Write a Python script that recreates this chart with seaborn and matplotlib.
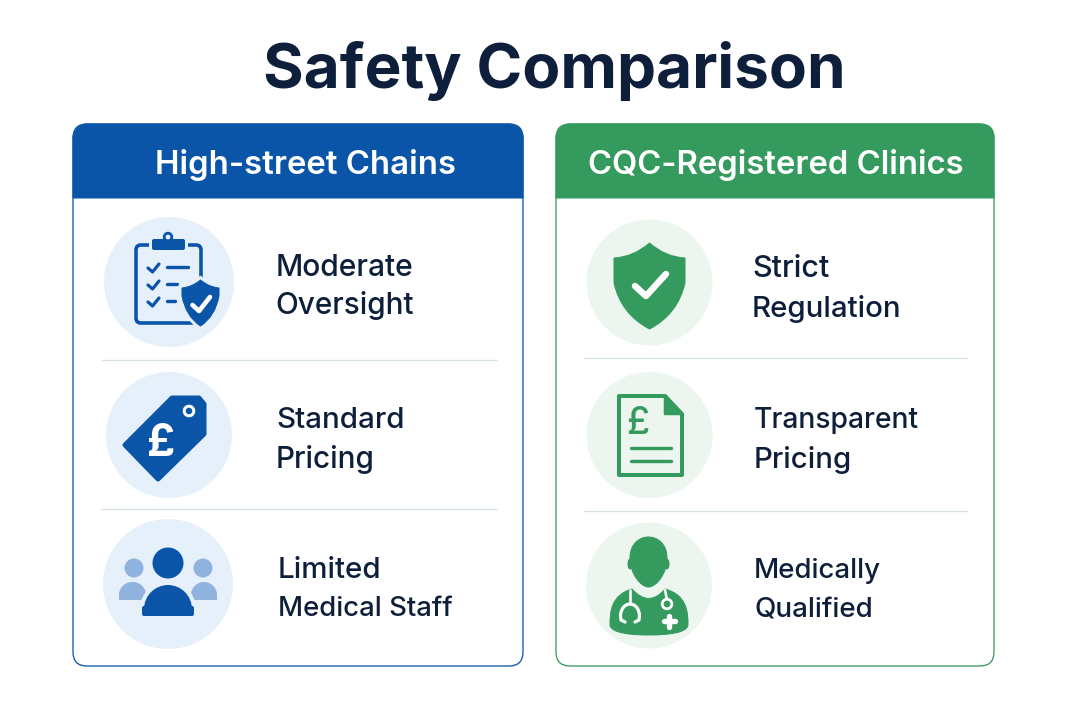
#!/usr/bin/env python3
import matplotlib
matplotlib.use('Agg')
import matplotlib.pyplot as plt
import matplotlib.patches as patches
from matplotlib.path import Path
import pandas as pd
import seaborn as sns

# chart text
title = 'Safety Comparison'
columns = ['High-street Chains', 'CQC-Registered Clinics']
left_rows = ['Moderate', 'Oversight', 'Standard', 'Pricing', 'Limited', 'Medical Staff']
right_rows = ['Strict', 'Regulation', 'Transparent', 'Pricing', 'Medically', 'Qualified']

# colours
INK = '#0e1f3b'
BLUE = '#0b55a9'
BLUE_SOFT = '#e6f0fa'
BLUE_MID = '#8fb3de'
GREEN = '#359a5e'
GREEN_SOFT = '#ecf6ef'
RULE = '#d6e2e8'

sns.set_theme(style='white')
plt.rcParams['font.family'] = ['Inter', 'DejaVu Sans']

fig, ax = plt.subplots(figsize=(10.8, 7.2), dpi=100)
fig.subplots_adjust(0, 0, 1, 1)


def px(w):
    return w * 0.72


def rounded_top(x0, x1, y0, y1, r):
    k = r * 0.45
    verts = [(x0, y1), (x0, y0 + r), (x0, y0 + k), (x0 + k, y0), (x0 + r, y0), (x1 - r, y0),
             (x1 - k, y0), (x1, y0 + k), (x1, y0 + r), (x1, y1), (x0, y1)]
    codes = [Path.MOVETO, Path.LINETO, Path.CURVE4, Path.CURVE4, Path.CURVE4, Path.LINETO,
             Path.CURVE4, Path.CURVE4, Path.CURVE4, Path.LINETO, Path.CLOSEPOLY]
    return Path(verts, codes)


def card(x0, x1, y0, y1, head_y, color):
    box = patches.FancyBboxPatch((x0, y0), x1 - x0, y1 - y0, boxstyle='round,pad=0,rounding_size=14',
                                 fc='white', ec=color, lw=px(1.3), zorder=1)
    ax.add_patch(box)
    ax.add_patch(patches.PathPatch(rounded_top(x0, x1, y0, head_y, 14), fc=color, ec=color, lw=px(1), zorder=2))


def rrect(x0, y0, x1, y1, r, **kw):
    p = patches.FancyBboxPatch((x0, y0), x1 - x0, y1 - y0, boxstyle=f'round,pad=0,rounding_size={r}', **kw)
    ax.add_patch(p)
    return p


def line(xs, ys, color, w, z=5):
    ax.plot(xs, ys, color=color, lw=px(w), solid_capstyle='round', solid_joinstyle='round', zorder=z)


def shield_path(cx, top, half_w, shoulder, side, bottom):
    verts = [(cx, top),
             (cx - half_w * 0.45, shoulder - 1), (cx - half_w, shoulder),
             (cx - half_w, side),
             (cx - half_w * 0.8, side + (bottom - side) * 0.68), (cx, bottom),
             (cx + half_w * 0.8, side + (bottom - side) * 0.68), (cx + half_w, side),
             (cx + half_w, shoulder),
             (cx + half_w * 0.45, shoulder - 1), (cx, top),
             (cx, top)]
    codes = [Path.MOVETO, Path.CURVE3, Path.CURVE3, Path.LINETO, Path.CURVE3, Path.CURVE3,
             Path.CURVE3, Path.CURVE3, Path.LINETO, Path.CURVE3, Path.CURVE3, Path.CLOSEPOLY]
    return Path(verts, codes)


def clipboard_icon():
    rr = patches.FancyBboxPatch((136, 245), 65, 78, boxstyle='round,pad=0,rounding_size=5', fc='none', ec=BLUE, lw=px(3.6), zorder=4)
    ax.add_patch(rr)
    # hide the top of the frame behind the clip
    ax.add_patch(patches.Rectangle((149, 238), 39, 14, fc=BLUE_SOFT, ec='none', zorder=4.5))
    rrect(152, 239, 185, 250, 2, fc=BLUE, ec='none', zorder=5)
    ax.add_patch(patches.Circle((168, 237), 3.8, fc=BLUE_SOFT, ec=BLUE, lw=px(2.8), zorder=5))
    for y in [268, 285, 302]:
        line([148, 152.5, 159], [y, y + 4, y - 4], BLUE, 3.2)
    line([167, 188], [267, 267], BLUE, 3.4)
    line([167, 177], [284, 284], BLUE, 3.4)
    line([167, 175], [301, 301], BLUE, 3.4)
    shield = shield_path(200.5, 280, 18.5, 288, 296, 326)
    ax.add_patch(patches.PathPatch(shield, fc=BLUE_SOFT, ec=BLUE_SOFT, lw=px(7), zorder=5.5))
    ax.add_patch(patches.PathPatch(shield, fc=BLUE, ec=BLUE, lw=px(1), zorder=6))
    line([192.5, 199, 210], [305, 311, 297], 'white', 4.6, z=7)


def tag_icon():
    pts = [(172, 398), (199, 398), (204, 404), (204, 434), (158, 479), (125, 445)]
    ax.add_patch(patches.Polygon(pts, closed=True, fc=BLUE, ec=BLUE, lw=px(5), joinstyle='round', zorder=5))
    ax.add_patch(patches.Circle((189, 411), 4.8, fc=BLUE, ec='white', lw=px(3), zorder=6))
    ax.text(161, 444, '£', color='white', fontsize=32, fontweight='bold', ha='center', va='center', zorder=6)


def people_icon():
    for cx, x0, x1 in [(134, 119, 146), (203, 191, 217)]:
        ax.add_patch(patches.Circle((cx, 568), 9.5, fc=BLUE_MID, ec='none', zorder=4))
        ax.add_patch(patches.PathPatch(rounded_top(x0, x1, 582, 600, 13), fc=BLUE_MID, ec='none', zorder=4))
    ax.add_patch(patches.Circle((168, 563), 15.5, fc=BLUE, ec='none', zorder=5))
    ax.add_patch(patches.PathPatch(rounded_top(142, 194, 583, 616, 26), fc=BLUE, ec=BLUE_SOFT, lw=px(4), zorder=5))
    rrect(142, 606, 194, 616, 2, fc=BLUE, ec='none', zorder=5.5)


def green_shield_icon():
    shield = shield_path(649.5, 243, 35.5, 258, 283, 329)
    ax.add_patch(patches.PathPatch(shield, fc=GREEN, ec=GREEN, lw=px(1), zorder=5))
    line([635, 646, 666], [286, 296, 274], 'white', 6.5, z=6)


def document_icon():
    verts = [(619, 396), (665, 396), (682, 414), (682, 475), (619, 475)]
    ax.add_patch(patches.Polygon(verts, closed=True, fc='none', ec=GREEN, lw=px(4), joinstyle='round', zorder=5))
    ax.add_patch(patches.Polygon([(665, 396), (682, 414), (665, 414)], closed=True, fc=GREEN, ec=GREEN, lw=px(2.5), joinstyle='round', zorder=5))
    ax.text(638, 424, '£', color=GREEN, fontsize=27, fontweight='medium', ha='center', va='center', zorder=5)
    line([631, 671], [448, 448], GREEN, 3.4)
    line([631, 671], [461, 461], GREEN, 3.4)


def doctor_icon():
    # head, wide at the top and narrowing to the chin
    head = [(630, 558), (630, 530), (667, 530), (667, 558), (667, 574), (656, 587), (648.5, 587), (641, 587), (630, 574), (630, 558)]
    head_codes = [Path.MOVETO] + [Path.CURVE4] * 9
    ax.add_patch(patches.PathPatch(Path(head, head_codes), fc=GREEN, ec=GREEN, lw=px(1), zorder=5))
    ax.add_patch(patches.Ellipse((630, 564), 5, 11, fc=GREEN, ec='none', zorder=5))
    ax.add_patch(patches.Ellipse((667, 564), 5, 11, fc=GREEN, ec='none', zorder=5))
    # shoulders, with the collar cut out under the chin
    body = [(632, 589), (611, 595), (610, 612), (610, 625), (611, 633), (630, 635), (649, 635),
            (668, 635), (687, 633), (688, 625), (688, 612), (687, 595), (665, 589), (649, 608), (632, 589), (632, 589)]
    body_codes = [Path.MOVETO] + [Path.CURVE4] * 12 + [Path.CURVE3, Path.CURVE3, Path.CLOSEPOLY]
    ax.add_patch(patches.PathPatch(Path(body, body_codes), fc=GREEN, ec=GREEN, lw=px(1), zorder=4))
    # stethoscope
    line([630, 630], [590, 604], 'white', 2.6, z=6)
    ax.add_patch(patches.Arc((630, 616), 19, 24, theta1=180, theta2=360, ec='white', lw=px(3.2), zorder=6))
    line([620.5, 621, 625], [616, 620, 622], 'white', 3.2, z=6)
    line([639.5, 639, 635], [616, 620, 622], 'white', 3.2, z=6)
    line([665, 667], [590, 600], 'white', 2.6, z=6)
    ax.add_patch(patches.Circle((667, 604), 4.8, fc=GREEN, ec='white', lw=px(2.8), zorder=6))
    line([669, 669], [615.5, 627], 'white', 5.4, z=6)
    line([663.5, 675], [621, 621], 'white', 5.4, z=6)


# panels
card(73, 523, 124, 666, 198, BLUE)
card(556, 994, 124, 666, 198, GREEN)

# icon badges
badges = pd.DataFrame({
    'x': [169, 169, 168, 649.5, 649.5, 649],
    'y': [282, 435, 584, 282.5, 435, 585.5],
    'r': [65, 63, 65, 63, 63, 63],
    'side': ['l', 'l', 'l', 'r', 'r', 'r'],
})
badges['s'] = (2 * badges['r'] * 0.72) ** 2
for side, color in [('l', BLUE_SOFT), ('r', GREEN_SOFT)]:
    sub = badges[badges['side'] == side]
    sns.scatterplot(data=sub, x='x', y='y', s=sub['s'].values, color=color, linewidth=0, ax=ax, zorder=3, legend=False)

# dividers
ax.hlines([360, 509], 101, 497, color=RULE, lw=px(1.3), zorder=2)
ax.hlines([358, 511], 583, 968, color=RULE, lw=px(1.3), zorder=2)

clipboard_icon()
tag_icon()
people_icon()
green_shield_icon()
document_icon()
doctor_icon()

ax.set_xlim(0, 1080)
ax.set_ylim(720, 0)
ax.axis('off')

# text
ax.text(554.5, 71, title, color=INK, fontsize=44.7, fontweight='bold', ha='center', va='center')
ax.text(305.5, 165, columns[0], color='white', fontsize=23.7, fontweight='semibold', ha='center', va='center')
ax.text(776, 165, columns[1], color='white', fontsize=23.6, fontweight='semibold', ha='center', va='center')

left_pos = [(276, 268), (275, 306), (276, 420), (276, 460), (278, 571), (278, 609)]
left_size = [21.6, 21.4, 21.3, 21.4, 21.3, 19.8]
right_pos = [(752, 269), (752, 309), (754, 420), (754, 460), (754, 571), (754, 609)]
right_size = [22, 21.2, 20.4, 21.2, 19.9, 20]
for rows, pos, size in [(left_rows, left_pos, left_size), (right_rows, right_pos, right_size)]:
    for label, (x, y), fs in zip(rows, pos, size):
        ax.text(x, y, label, color=INK, fontsize=fs, fontweight='medium', ha='left', va='center', zorder=5)

plt.savefig('out.png', dpi=100)
